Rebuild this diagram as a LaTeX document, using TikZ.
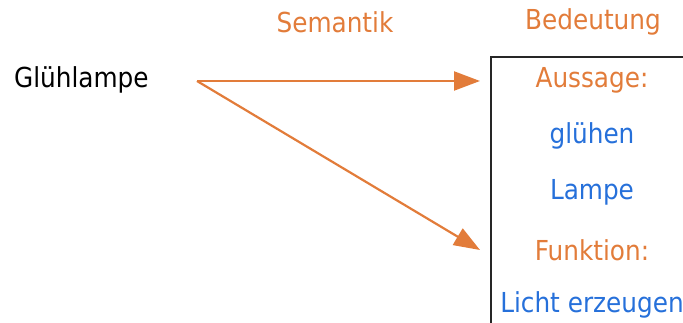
\documentclass[tikz,border=0pt]{standalone}
\usepackage{fontspec}
\setmainfont{DejaVu Sans Condensed}
\usetikzlibrary{arrows.meta}
\definecolor{accent}{RGB}{226,124,58}
\definecolor{meaning}{RGB}{38,112,218}
\tikzset{
  lbl/.style={inner sep=0pt, font=\fontsize{27.5}{32}\selectfont},
  head/.style={lbl, text=accent},
  item/.style={lbl, text=meaning},
  link/.style={draw=accent, line width=2.2pt, -{Triangle[length=26pt, width=19pt]}},
}
\begin{document}
\begin{tikzpicture}[x=1pt, y=-1pt]
  \useasboundingbox (0,0) rectangle (683,323);
  % column headings
  \node[head] (sem) at (335,22) {Semantik};
  \node[head] (bed) at (593,22) {Bedeutung};
  % word on the left
  \node[lbl, anchor=west] (word) at (14,80) {Glühlampe};
  \coordinate (src) at (197,81);
  % meaning box, open towards the right and bottom edges
  \draw[line width=2.2pt, draw=black!85] (700,57) -- (491,57) -- (491,340);
  \node[head] (aus) at (592,80) {Aussage:};
  \node[item] (glu) at (592,136) {glühen};
  \node[item] (lam) at (592,192) {Lampe};
  \node[head] (fun) at (592,250) {Funktion:};
  \node[item] (lic) at (592,305) {Licht erzeugen};
  \coordinate (t1) at (480,81);
  \coordinate (t2) at (480,250);
  \draw[link] (src) -- (t1);
  \draw[link] (src) -- (t2);
\end{tikzpicture}
\end{document}
